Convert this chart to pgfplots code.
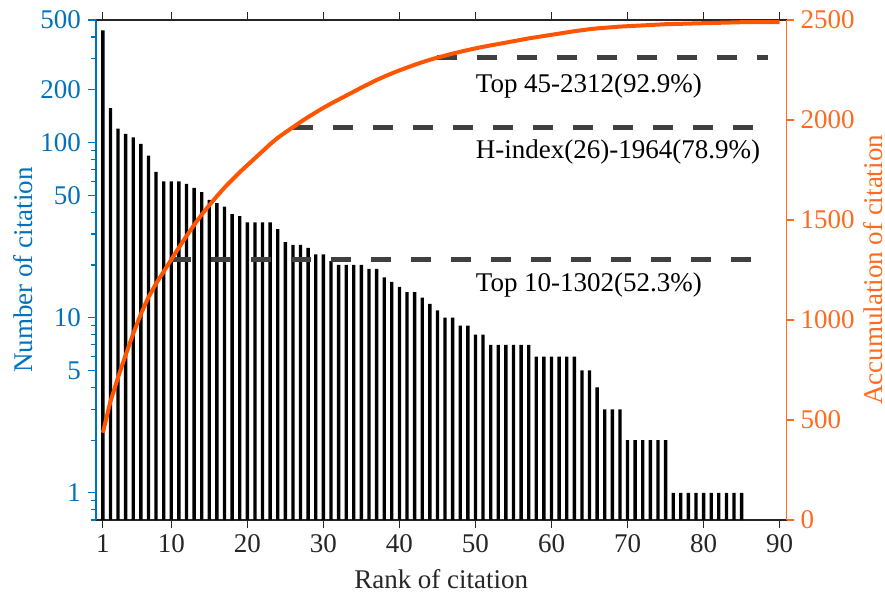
\documentclass[border=0pt]{standalone}
\usepackage{fontspec}
\setmainfont{Liberation Serif}
\usepackage{pgfplots}
\pgfplotsset{compat=1.18}
\definecolor{mblue}{RGB}{0,114,189}
\definecolor{morange}{RGB}{255,106,31}
\definecolor{mline}{RGB}{255,85,0}
\definecolor{mgray}{RGB}{38,38,38}
\definecolor{mdash}{RGB}{64,64,64}
\newcommand{\cfont}{\fontsize{13.5bp}{16bp}\selectfont}
\pgfplotsset{
  citbase/.style={
    at={(0,0)}, anchor=south west,
    width=345.25bp, height=250bp, scale only axis,
    xmin=0.1, xmax=90.9,
    tick align=outside,
    major tick length=4bp, minor tick length=2.5bp,
    /pgf/number format/assume math mode=true,
    tick label style={font=\cfont},
    label style={font=\cfont},
  },
}
\begin{document}
\begin{tikzpicture}[font=\cfont]
\path[use as bounding box] (-48bp,-38bp) rectangle (394.5bp,260bp);

% left axis: citations per paper (log)
\begin{axis}[
  citbase,
  ymode=log, ymin=0.7, ymax=500, log origin y=infty,
  axis x line*=box, axis y line*=left,
  x axis line style={draw=mgray, line width=0.6bp},
  y axis line style={draw=mblue, line width=0.6bp},
  xtick={1,10,20,30,40,50,60,70,80,90},
  xtick pos=both, xticklabel pos=lower,
  x tick style={mgray, line width=0.6bp},
  x tick label style={text=mgray},
  ytick={1,5,10,50,100,200,500},
  yticklabels={1,5,10,50,100,200,500},
  minor ytick={0.7,0.8,0.9,2,3,4,6,7,8,9,20,30,40,60,70,80,90,300,400},
  y tick style={mblue, line width=0.6bp},
  y tick label style={text=mblue},
  xlabel={Rank of citation},
  xlabel style={text=mgray, at={(axis description cs:0.5,-0.118)}, anchor=center},
  ylabel={Number of citation},
  ylabel style={text=mblue, at={(axis description cs:-0.1057,0.5)}, anchor=center},
]
\addplot[ybar, bar width=0.44, fill=black, draw=none] coordinates {
(1,436) (2,157) (3,120) (4,112) (5,107) (6,98) (7,84) (8,68) (9,60) (10,60)
(11,60) (12,58) (13,55) (14,52) (15,47) (16,45) (17,43) (18,39) (19,38) (20,35)
(21,35) (22,35) (23,35) (24,32) (25,27) (26,26) (27,26) (28,25) (29,23) (30,23)
(31,21) (32,20) (33,20) (34,20) (35,20) (36,19) (37,19) (38,17) (39,16) (40,15)
(41,14) (42,14) (43,13) (44,12) (45,11) (46,10) (47,10) (48,9) (49,9) (50,8)
(51,8) (52,7) (53,7) (54,7) (55,7) (56,7) (57,7) (58,6) (59,6) (60,6)
(61,6) (62,6) (63,6) (64,5) (65,5) (66,4) (67,3) (68,3) (69,3) (70,2)
(71,2) (72,2) (73,2) (74,2) (75,2) (76,1) (77,1) (78,1) (79,1) (80,1)
(81,1) (82,1) (83,1) (84,1) (85,1)
};
\end{axis}

% right axis: accumulated citations
\begin{axis}[
  citbase,
  ymin=0, ymax=2500,
  axis x line=none, axis y line*=right,
  y axis line style={draw=morange, line width=0.6bp},
  ytick={0,500,1000,1500,2000,2500},
  major tick length=3.5bp,
  scaled y ticks=false,
  y tick style={morange, line width=0.6bp},
  y tick label style={text=morange, /pgf/number format/1000 sep={}},
  ylabel={Accumulation of citation},
  ylabel style={text=morange, inner sep=0pt, at={(axis description cs:1.125,0.5)}, anchor=center},
]
\addplot[mdash, line width=2.3bp, dash pattern=on 10bp off 10bp] coordinates {(10,1302) (88.5,1302)};
\addplot[mdash, line width=2.3bp, dash pattern=on 10bp off 10bp] coordinates {(26,1964) (88.5,1964)};
\addplot[mdash, line width=2.3bp, dash pattern=on 10bp off 10bp] coordinates {(45,2312) (88.5,2312)};
\addplot[mline, line width=2bp, line join=round] coordinates {
(1,436) (2,593) (3,713) (4,825) (5,932) (6,1030) (7,1114) (8,1182) (9,1242) (10,1302)
(11,1362) (12,1420) (13,1475) (14,1527) (15,1574) (16,1619) (17,1662) (18,1701) (19,1739) (20,1774)
(21,1809) (22,1844) (23,1879) (24,1911) (25,1938) (26,1964) (27,1990) (28,2015) (29,2038) (30,2061)
(31,2082) (32,2102) (33,2122) (34,2142) (35,2162) (36,2181) (37,2200) (38,2217) (39,2233) (40,2248)
(41,2262) (42,2276) (43,2289) (44,2301) (45,2312) (46,2322) (47,2332) (48,2341) (49,2350) (50,2358)
(51,2366) (52,2373) (53,2380) (54,2387) (55,2394) (56,2401) (57,2408) (58,2414) (59,2420) (60,2426)
(61,2432) (62,2438) (63,2444) (64,2449) (65,2454) (66,2458) (67,2461) (68,2464) (69,2467) (70,2469)
(71,2471) (72,2473) (73,2475) (74,2477) (75,2479) (76,2480) (77,2481) (78,2482) (79,2483) (80,2484)
(81,2485) (82,2486) (83,2487) (84,2488) (85,2489) (86,2489) (87,2489) (88,2489) (89,2489) (90,2489)
};
\node[anchor=west, inner sep=0pt, text=black] at (axis cs:50,2170) {Top 45-2312(92.9\%)};
\node[anchor=west, inner sep=0pt, text=black] at (axis cs:50,1840) {H-index(26)-1964(78.9\%)};
\node[anchor=west, inner sep=0pt, text=black] at (axis cs:50,1175) {Top 10-1302(52.3\%)};
\end{axis}
\end{tikzpicture}
\end{document}
